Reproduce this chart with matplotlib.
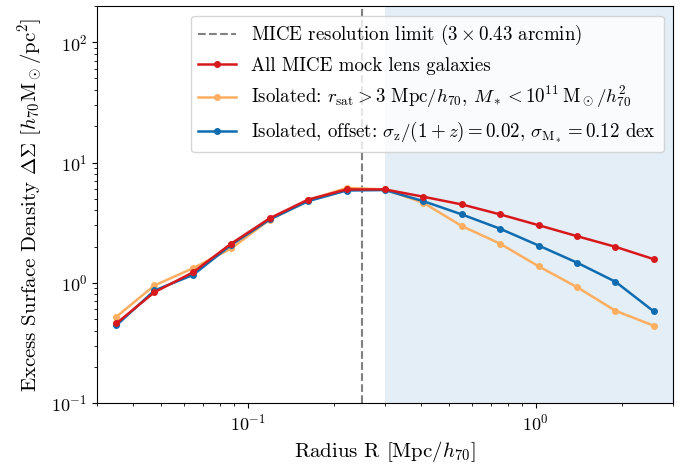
import matplotlib
matplotlib.use("Agg")
import matplotlib.pyplot as plt

plt.rcParams['font.family'] = 'serif'
plt.rcParams['font.serif'] = ['cmr10']
plt.rcParams['mathtext.fontset'] = 'cm'
plt.rcParams['axes.formatter.use_mathtext'] = True

# radial bin centres [Mpc/h70]
radius = [0.0350, 0.0475, 0.0646, 0.0878, 0.1194, 0.1623, 0.2207, 0.3000,
          0.4078, 0.5544, 0.7536, 1.024, 1.392, 1.893, 2.573]

ds_all = [0.459, 0.835, 1.22, 2.12, 3.44, 4.92, 5.97, 5.97,
          5.19, 4.48, 3.70, 3.01, 2.44, 1.99, 1.57]
ds_iso = [0.521, 0.95, 1.32, 1.93, 3.35, 4.85, 6.15, 5.97,
          4.62, 2.96, 2.11, 1.37, 0.92, 0.585, 0.439]
ds_off = [0.442, 0.863, 1.16, 2.07, 3.36, 4.77, 5.85, 5.9,
          4.77, 3.70, 2.81, 2.04, 1.47, 1.02, 0.577]

res_limit = 0.25
shade_start = 0.3

fig = plt.figure(figsize=(6.91, 4.66), dpi=100)
ax = fig.add_axes([0.1404, 0.1352, 0.8336, 0.8518])

ax.axvspan(shade_start, 3, color='#e3eef6', lw=0, zorder=0)
ax.axvline(res_limit, color='gray', ls='--', lw=1.5,
           label=r'MICE resolution limit ($3\times0.43$ arcmin)')
ax.plot(radius, ds_all, color='#d7191c', marker='o', ms=4, lw=1.8, zorder=4,
        label='All MICE mock lens galaxies')
ax.plot(radius, ds_iso, color='#fdae61', marker='o', ms=4, lw=1.8, zorder=3,
        label=r'Isolated: $r_{\rm sat}>3$ Mpc$/h_{70}$, $M_*<10^{11}\,{\rm M_\odot}/h_{70}^2$')
ax.plot(radius, ds_off, color='#0f6cb0', marker='o', ms=4, lw=1.8, zorder=3,
        label=r'Isolated, offset: $\sigma_{\rm z}/(1+z)=0.02$, $\sigma_{\rm M_*}=0.12$ dex')

ax.set_xscale('log')
ax.set_yscale('log')
ax.set_xlim(0.03, 3)
ax.set_ylim(0.1, 200)

ax.set_xlabel(r'Radius R [Mpc$/h_{70}$]', fontsize=15)
ax.set_ylabel(r'Excess Surface Density $\Delta\Sigma$ [$h_{70}{\rm M_\odot}/{\rm pc^2}$]', fontsize=15)
ax.tick_params(labelsize=13)
ax.legend(loc='upper right', fontsize=13.6)

plt.savefig('out.png', dpi=100)
